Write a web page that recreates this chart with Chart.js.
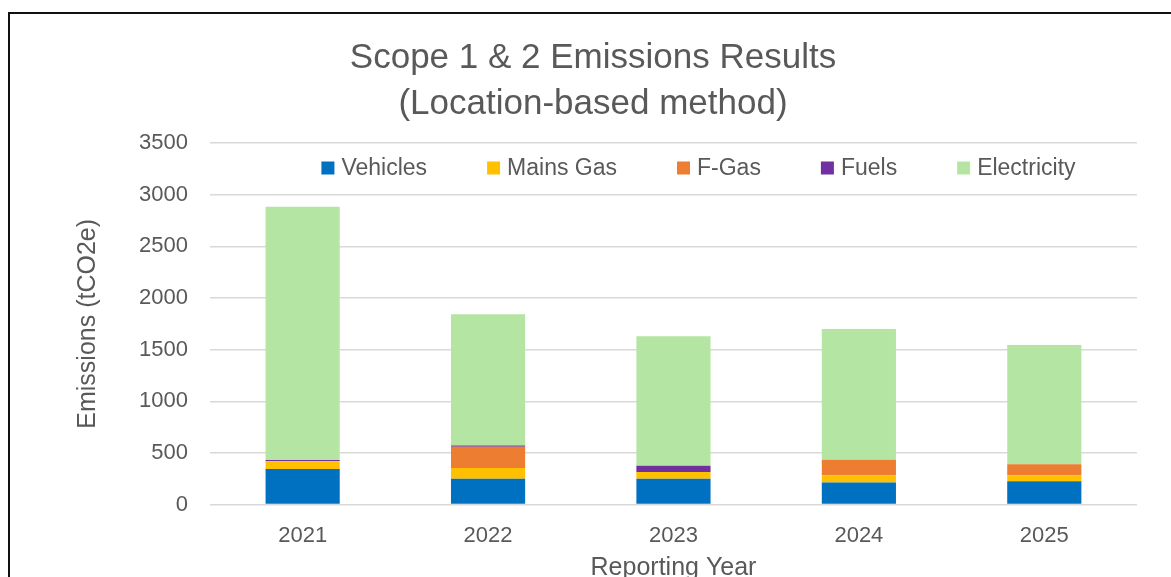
<!DOCTYPE html>
<html>
<head>
<meta charset="utf-8">
<script src="https://cdn.jsdelivr.net/npm/chart.js@4.4.1/dist/chart.umd.min.js"></script>
<style>
  html, body { margin: 0; padding: 0; background: #fff; overflow: hidden; }
  #frame { position: absolute; left: 8px; top: 12px; width: 1200px; height: 700px; border: 2px solid #111; }
  #wrap { position: absolute; left: 0; top: 0; width: 1166px; height: 580px; }
</style>
</head>
<body>
<div id="frame">
  <div id="wrap"><canvas id="grafico"></canvas></div>
</div>
<script>
// datos
var years = ['2021', '2022', '2023', '2024', '2025'];
var vehicles = [345, 250, 250, 215, 225];
var mainsGas = [75, 105, 65, 70, 60];
var fGas = [0, 205, 0, 150, 105];
var fuels = [12, 12, 60, 0, 0];
var electricity = [2450, 1270, 1255, 1265, 1155];
var yTicks = [0, 500, 1000, 1500, 2000, 2500, 3000, 3500];

var gris = '#595959';
var fuente = 'Liberation Sans, Arial, sans-serif';

function serie(label, data, color) {
    return { label: label, data: data, backgroundColor: color, borderWidth: 0 };
}

// leyenda dibujada dentro del area del grafico (como en Excel)
var leyendaInterna = {
    id: 'leyendaInterna',
    afterDraw: function(chart) {
        var c = chart.ctx;
        var area = chart.chartArea;
        var sets = chart.data.datasets;
        var caja = 13, hueco = 7, sep = 60;
        c.save();
        c.font = '23px ' + fuente;
        var anchos = sets.map(function(ds) { return caja + hueco + c.measureText(ds.label).width; });
        var total = anchos.reduce(function(a, b) { return a + b; }, 0) + sep * (sets.length - 1);
        var x = (area.left + area.right) / 2 + 25 - total / 2;
        var y = area.top + 25;
        c.textBaseline = 'middle';
        c.textAlign = 'left';
        sets.forEach(function(ds, i) {
            c.fillStyle = ds.backgroundColor;
            c.fillRect(x, y - caja / 2, caja, caja);
            c.fillStyle = gris;
            c.fillText(ds.label, x + caja + hueco, y + 1);
            x += anchos[i] + sep;
        });
        c.restore();
    }
};

var ctx = document.getElementById('grafico').getContext('2d');
var myChart = new Chart(ctx, {
    type: 'bar',
    data: {
        labels: years,
        datasets: [
            serie('Vehicles', vehicles, '#0070C0'),
            serie('Mains Gas', mainsGas, '#FFC000'),
            serie('F-Gas', fGas, '#ED7D31'),
            serie('Fuels', fuels, '#7030A0'),
            serie('Electricity', electricity, '#B4E5A2')
        ]
    },
    options: {
        responsive: true,
        maintainAspectRatio: false,
        animation: false,
        layout: { padding: { left: 39, right: 39, top: 0, bottom: 7 } },
        datasets: { bar: { barPercentage: 0.4, categoryPercentage: 1.0 } },
        plugins: {
            title: {
                display: true,
                text: ['Scope 1 & 2 Emissions Results', '(Location-based method)'],
                color: gris,
                font: { family: fuente, size: 35, weight: 'normal', lineHeight: 1.3 },
                padding: { top: 22, bottom: 16 }
            },
            legend: { display: false },
            tooltip: { enabled: false }
        },
        scales: {
            x: {
                stacked: true,
                grid: { display: false, drawTicks: false },
                border: { display: false },
                ticks: { color: gris, font: { family: fuente, size: 22 }, padding: 18 },
                title: {
                    display: true,
                    text: 'Reporting Year',
                    color: gris,
                    font: { family: fuente, size: 25 },
                    padding: { top: -14, bottom: 4 }
                }
            },
            y: {
                stacked: true,
                min: yTicks[0],
                max: yTicks[yTicks.length - 1],
                grid: { color: '#d9d9d9', lineWidth: 1.5, drawTicks: false },
                border: { display: false },
                ticks: {
                    stepSize: yTicks[1] - yTicks[0],
                    color: gris,
                    font: { family: fuente, size: 22 },
                    padding: 22,
                    callback: function(v) { return String(v); }
                },
                title: {
                    display: true,
                    text: 'Emissions (tCO2e)',
                    color: gris,
                    font: { family: fuente, size: 25 },
                    padding: { top: 24, bottom: 14 }
                }
            }
        }
    },
    plugins: [leyendaInterna]
});
</script>
</body>
</html>
